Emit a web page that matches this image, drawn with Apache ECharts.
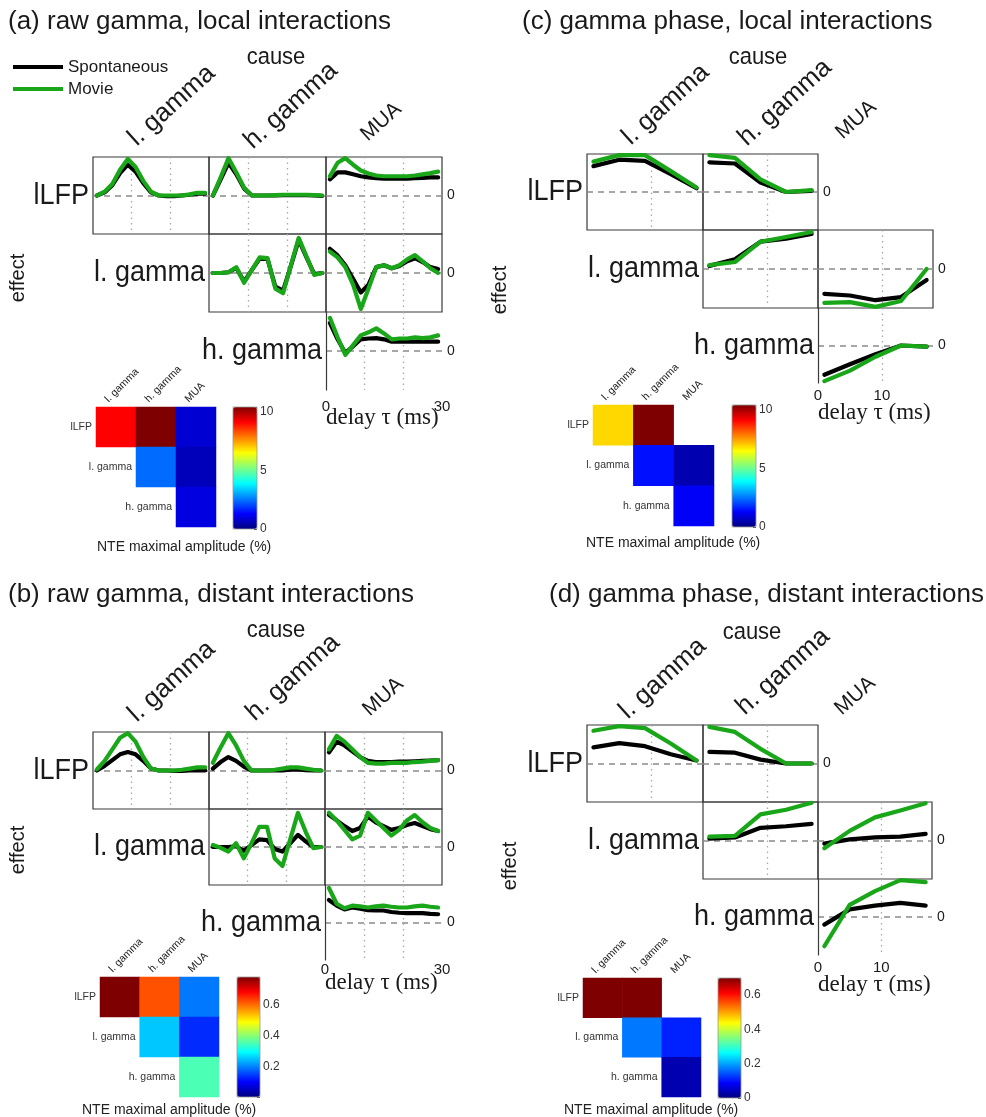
<!DOCTYPE html>
<html><head><meta charset="utf-8">
<script src="https://cdn.jsdelivr.net/npm/echarts@6/dist/echarts.min.js"></script>
<style>html,body{margin:0;padding:0;background:#fff}#c{width:986px;height:1117px}</style>
</head><body><div id="c"></div>
<script>
// ---------- categories / ticks ----------
const CAUSES = ['l. gamma', 'h. gamma', 'MUA'];
const EFFECTS = ['lLFP', 'l. gamma', 'h. gamma'];
const TAU_RAW = [1, 3, 5, 7, 9, 11, 13, 15, 17, 19, 21, 23, 25, 27, 29];
const TAU_PHASE = [1, 5, 9, 13, 17];
const XTICKS_RAW = [0, 30];
const XTICKS_PHASE = [0, 10];
const CB_TICKS_AC = [0, 5, 10];
const CB_TICKS_B = [0.2, 0.4, 0.6];
const CB_TICKS_D = [0, 0.2, 0.4, 0.6];

// ---------- (a) raw gamma, local ----------
const A_LFP_LG_SPON  = [0, 0.08, 0.27, 0.58, 0.8, 0.62, 0.32, 0.08, 0, -0.02, -0.02, 0, 0.02, 0.05, 0.05];
const A_LFP_LG_MOVIE = [0, 0.1, 0.3, 0.67, 0.95, 0.74, 0.38, 0.1, 0, 0, 0, 0, 0.03, 0.07, 0.07];
const A_LFP_HG_SPON  = [0, 0.42, 0.85, 0.55, 0.18, 0, 0, 0, 0, 0.01, 0.01, 0.01, 0.01, 0, -0.01];
const A_LFP_HG_MOVIE = [0, 0.47, 0.97, 0.6, 0.2, 0, 0, 0, 0.01, 0.02, 0.02, 0.02, 0.02, 0.01, 0];
const A_LFP_MUA_SPON = [0.42, 0.6, 0.6, 0.55, 0.5, 0.47, 0.45, 0.44, 0.44, 0.44, 0.44, 0.45, 0.46, 0.47, 0.47];
const A_LFP_MUA_MOVIE= [0.5, 0.85, 0.97, 0.8, 0.65, 0.57, 0.52, 0.5, 0.5, 0.5, 0.5, 0.52, 0.55, 0.58, 0.62];
const A_LG_HG_SPON   = [0, 0, 0.02, 0.13, -0.22, 0.08, 0.37, 0.36, -0.35, -0.45, 0.18, 0.85, 0.4, -0.03, 0];
const A_LG_HG_MOVIE  = [0, 0, 0.02, 0.15, -0.25, 0.08, 0.4, 0.38, -0.4, -0.52, 0.2, 0.9, 0.42, -0.05, 0];
const A_LG_MUA_SPON  = [0.62, 0.45, 0.2, -0.15, -0.5, -0.3, 0.15, 0.2, 0.12, 0.18, 0.3, 0.38, 0.28, 0.15, 0.1];
const A_LG_MUA_MOVIE = [0.55, 0.4, 0.15, -0.3, -0.92, -0.4, 0.15, 0.2, 0.12, 0.2, 0.35, 0.46, 0.3, 0.12, 0];
const A_HG_MUA_SPON  = [0.72, 0.3, -0.05, 0.12, 0.3, 0.32, 0.33, 0.3, 0.24, 0.24, 0.24, 0.24, 0.24, 0.24, 0.24];
const A_HG_MUA_MOVIE = [0.85, 0.35, -0.1, 0.15, 0.4, 0.48, 0.58, 0.45, 0.3, 0.32, 0.32, 0.35, 0.33, 0.35, 0.4];
const A_NTE_LFP = [9.1, 10.4, 0.85];
const A_NTE_LG  = [null, 2.4, 0.6];
const A_NTE_HG  = [null, null, 1.0];

// ---------- (b) raw gamma, distant ----------
const B_LFP_LG_SPON  = [0, 0.12, 0.27, 0.42, 0.48, 0.42, 0.25, 0.05, 0, 0, -0.01, -0.01, 0, 0, 0];
const B_LFP_LG_MOVIE = [0.03, 0.25, 0.55, 0.85, 0.97, 0.75, 0.35, 0.05, 0, 0, 0, 0.02, 0.05, 0.08, 0.08];
const B_LFP_HG_SPON  = [0.05, 0.22, 0.35, 0.25, 0.1, 0, 0, 0, 0, 0, 0.02, 0.03, 0.01, 0, 0];
const B_LFP_HG_MOVIE = [0.2, 0.6, 0.97, 0.65, 0.25, 0, 0, 0, 0.02, 0.05, 0.08, 0.08, 0.05, 0.02, 0];
const B_LFP_MUA_SPON = [0.47, 0.75, 0.65, 0.5, 0.35, 0.25, 0.22, 0.22, 0.22, 0.23, 0.23, 0.24, 0.25, 0.26, 0.27];
const B_LFP_MUA_MOVIE= [0.55, 0.9, 0.75, 0.55, 0.35, 0.2, 0.18, 0.18, 0.2, 0.2, 0.2, 0.22, 0.23, 0.25, 0.27];
const B_LG_HG_SPON   = [0, 0, 0, 0.02, -0.1, 0.05, 0.2, 0.18, -0.05, -0.12, 0.1, 0.32, 0.15, 0, 0];
const B_LG_HG_MOVIE  = [0.05, -0.02, -0.12, 0.1, -0.3, 0.1, 0.53, 0.53, -0.3, -0.5, 0.2, 0.9, 0.4, -0.03, 0];
const B_LG_MUA_SPON  = [0.85, 0.7, 0.55, 0.42, 0.5, 0.8, 0.65, 0.55, 0.45, 0.5, 0.58, 0.63, 0.55, 0.47, 0.42];
const B_LG_MUA_MOVIE = [0.9, 0.7, 0.45, 0.2, 0.3, 0.9, 0.7, 0.5, 0.3, 0.45, 0.7, 0.84, 0.65, 0.5, 0.42];
const B_HG_MUA_SPON  = [0.6, 0.45, 0.35, 0.4, 0.37, 0.33, 0.32, 0.32, 0.28, 0.26, 0.25, 0.25, 0.25, 0.23, 0.22];
const B_HG_MUA_MOVIE = [0.92, 0.5, 0.38, 0.45, 0.43, 0.4, 0.43, 0.45, 0.42, 0.4, 0.4, 0.43, 0.45, 0.42, 0.4];
const B_NTE_LFP = [0.78, 0.62, 0.19];
const B_NTE_LG  = [null, 0.25, 0.13];
const B_NTE_HG  = [null, null, 0.35];

// ---------- (c) gamma phase, local ----------
const C_LFP_LG_SPON  = [0.68, 0.85, 0.82, 0.47, 0.1];
const C_LFP_LG_MOVIE = [0.8, 0.97, 0.97, 0.55, 0.12];
const C_LFP_HG_SPON  = [0.78, 0.75, 0.25, 0, 0.03];
const C_LFP_HG_MOVIE = [0.97, 0.9, 0.33, 0, 0.05];
const C_LG_HG_SPON   = [0.08, 0.25, 0.7, 0.78, 0.9];
const C_LG_HG_MOVIE  = [0.1, 0.18, 0.7, 0.82, 0.95];
const C_LG_MUA_SPON  = [-0.64, -0.68, -0.8, -0.72, -0.28];
const C_LG_MUA_MOVIE = [-0.87, -0.85, -0.97, -0.82, 0];
const C_HG_MUA_SPON  = [-0.78, -0.5, -0.23, 0, -0.03];
const C_HG_MUA_MOVIE = [-0.95, -0.67, -0.3, 0, -0.03];
const C_NTE_LFP = [6.9, 10.4, null];
const C_NTE_LG  = [null, 1.45, 0.5];
const C_NTE_HG  = [null, null, 1.25];

// ---------- (d) gamma phase, distant ----------
const D_LFP_LG_SPON  = [0.42, 0.53, 0.45, 0.24, 0.08];
const D_LFP_LG_MOVIE = [0.85, 0.97, 0.92, 0.52, 0.08];
const D_LFP_HG_SPON  = [0.3, 0.28, 0.1, 0, 0];
const D_LFP_HG_MOVIE = [0.95, 0.82, 0.38, 0, 0];
const D_LG_HG_SPON   = [0.05, 0.08, 0.33, 0.37, 0.43];
const D_LG_HG_MOVIE  = [0.1, 0.12, 0.68, 0.8, 0.98];
const D_LG_MUA_SPON  = [-0.08, 0.03, 0.08, 0.1, 0.17];
const D_LG_MUA_MOVIE = [-0.2, 0.25, 0.6, 0.78, 0.97];
const D_HG_MUA_SPON  = [-0.2, 0.2, 0.3, 0.37, 0.3];
const D_HG_MUA_MOVIE = [-0.77, 0.32, 0.68, 0.97, 0.92];
const D_NTE_LFP = [0.7, 0.7, null];
const D_NTE_LG  = [null, 0.17, 0.11];
const D_NTE_HG  = [null, null, 0.034];

// ---------- styling / layout ----------
const JET = ['#00007f','#0000ff','#007fff','#00ffff','#7fff7f','#ffff00','#ff7f00','#ff0000','#7f0000'];
const SANS = '"Liberation Sans", Arial, Helvetica, sans-serif';
const SERIF = '"Liberation Serif", "Times New Roman", serif';
const C_SPON = '#000000', C_MOVIE = '#19a619';
const TXT = '#1a1a1a';

const PANELS = [
  { title: '(a) raw gamma, local interactions', tau: TAU_RAW, xMax: 30, xTicks: XTICKS_RAW,
    cells: [[0,0,A_LFP_LG_SPON,A_LFP_LG_MOVIE],[0,1,A_LFP_HG_SPON,A_LFP_HG_MOVIE],[0,2,A_LFP_MUA_SPON,A_LFP_MUA_MOVIE],
            [1,1,A_LG_HG_SPON,A_LG_HG_MOVIE],[1,2,A_LG_MUA_SPON,A_LG_MUA_MOVIE],[2,2,A_HG_MUA_SPON,A_HG_MUA_MOVIE]],
    nte: [A_NTE_LFP, A_NTE_LG, A_NTE_HG], nteMax: 10.4, nteStep: 5, cbTicks: CB_TICKS_AC,
    L: { col:[93,209,326,442], row:[157,234,312,390], title:[8,22], cause:[276,57], effect:[18,278],
         heads:[[137,147],[253,150],[368,142]], xlab:[326,418], xlabMargin:9,
         hm:[96,407,120,120], cb:[233,407,24,122], nteLab:[97,547] } },
  { title: '(b) raw gamma, distant interactions', tau: TAU_RAW, xMax: 30, xTicks: XTICKS_RAW,
    cells: [[0,0,B_LFP_LG_SPON,B_LFP_LG_MOVIE],[0,1,B_LFP_HG_SPON,B_LFP_HG_MOVIE],[0,2,B_LFP_MUA_SPON,B_LFP_MUA_MOVIE],
            [1,1,B_LG_HG_SPON,B_LG_HG_MOVIE],[1,2,B_LG_MUA_SPON,B_LG_MUA_MOVIE],[2,2,B_HG_MUA_SPON,B_HG_MUA_MOVIE]],
    nte: [B_NTE_LFP, B_NTE_LG, B_NTE_HG], nteMax: 0.78, nteStep: 0.2, cbTicks: CB_TICKS_B,
    L: { col:[93,209,325,442], row:[732,809,885,960], title:[8,595], cause:[276,630], effect:[18,850],
         heads:[[137,723],[255,722],[370,717]], xlab:[325,983], xlabMargin:2,
         hm:[100,977,119,120], cb:[237,977,23,120], nteLab:[82,1110] } },
  { title: '(c) gamma phase, local interactions', tau: TAU_PHASE, xMax: 18, xTicks: XTICKS_PHASE,
    cells: [[0,0,C_LFP_LG_SPON,C_LFP_LG_MOVIE],[0,1,C_LFP_HG_SPON,C_LFP_HG_MOVIE],
            [1,1,C_LG_HG_SPON,C_LG_HG_MOVIE],[1,2,C_LG_MUA_SPON,C_LG_MUA_MOVIE],[2,2,C_HG_MUA_SPON,C_HG_MUA_MOVIE]],
    nte: [C_NTE_LFP, C_NTE_LG, C_NTE_HG], nteMax: 10.4, nteStep: 5, cbTicks: CB_TICKS_AC,
    L: { col:[587,703,818,933], row:[154,230,308,383], title:[522,22], cause:[758,57], effect:[500,290],
         heads:[[631,146],[747,147],[843,140]], xlab:[818,413], xlabMargin:5,
         hm:[593,405,121,121], cb:[732,405,24,122], nteLab:[586,543] } },
  { title: '(d) gamma phase, distant interactions', tau: TAU_PHASE, xMax: 18, xTicks: XTICKS_PHASE,
    cells: [[0,0,D_LFP_LG_SPON,D_LFP_LG_MOVIE],[0,1,D_LFP_HG_SPON,D_LFP_HG_MOVIE],
            [1,1,D_LG_HG_SPON,D_LG_HG_MOVIE],[1,2,D_LG_MUA_SPON,D_LG_MUA_MOVIE],[2,2,D_HG_MUA_SPON,D_HG_MUA_MOVIE]],
    nte: [D_NTE_LFP, D_NTE_LG, D_NTE_HG], nteMax: 0.7, nteStep: 0.2, cbTicks: CB_TICKS_D,
    L: { col:[587,703,818,932], row:[725,802,879,955], title:[549,595], cause:[752,632], effect:[510,866],
         heads:[[628,720],[745,716],[842,716]], xlab:[818,985], xlabMargin:5,
         hm:[583,978,118,119], cb:[718,978,23,120], nteLab:[564,1110] } }
];

const grid = [], xAxis = [], yAxis = [], series = [], visualMap = [], graphic = [];

function text(x, y, str, o) {
  o = o || {};
  return { type: 'text', x: x, y: y, rotation: o.rot || 0, scaleY: o.sy || 1, silent: true, z: 10,
    style: { text: str, fontSize: o.size || 14, fontFamily: o.family || SANS, fill: o.color || TXT,
      textAlign: o.align || 'left', align: o.align || 'left',
      textVerticalAlign: o.va || 'middle', verticalAlign: o.va || 'middle' } };
}
// place rotated text by baseline-start point
function rotText(bx, by, str, size, deg) {
  const th = deg * Math.PI / 180, d = 0.21 * size;
  return text(bx + d * Math.sin(th), by + d * Math.cos(th), str, { size: size, rot: th, va: 'bottom' });
}
const near = (arr, v) => arr.some(t => Math.abs(t - v) < 1e-6);

PANELS.forEach(p => {
  const L = p.L;
  const dashed = { show: true, showMinLine: false, showMaxLine: false, lineStyle: { type: [6, 5], color: '#8a8a8a', width: 1.5 } };
  const zeroLab = { show: true, formatter: v => (v === 0 ? '0' : ''), fontSize: 14, color: TXT, margin: 5, fontFamily: SANS };
  p.cells.forEach(cell => {
    const r = cell[0], c = cell[1];
    const bottomRow = r === 2;
    const rightmost = !p.cells.some(o => o[0] === r && o[1] > c);
    const gi = grid.length;
    grid.push({ left: L.col[c], top: L.row[r], width: L.col[c + 1] - L.col[c], height: L.row[r + 1] - L.row[r],
      show: !bottomRow, borderColor: '#3a3a3a', borderWidth: 1.2, backgroundColor: 'transparent' });
    const xi = xAxis.length;
    xAxis.push({ gridIndex: gi, type: 'value', min: 0, max: p.xMax, interval: 10,
      axisLine: { show: false, onZero: false }, axisTick: { show: false },
      axisLabel: { show: bottomRow, formatter: v => (p.xTicks.indexOf(v) >= 0 ? String(v) : ''), fontSize: 15,
        margin: L.xlabMargin, color: TXT, fontFamily: SANS, showMinLabel: true, showMaxLabel: true },
      splitLine: { show: true, showMinLine: false, showMaxLine: false, lineStyle: { type: [1.5, 4], color: '#a8a8a8', width: 1.3 } } });
    const yb = { gridIndex: gi, type: 'value', min: -1, max: 1, interval: 1, axisTick: { show: false } };
    const yi = yAxis.length;
    if (bottomRow) {
      yAxis.push(Object.assign({}, yb, { position: 'left', axisLine: { show: true, onZero: false, lineStyle: { color: '#3a3a3a', width: 1.2 } },
        axisLabel: { show: false }, splitLine: dashed }));
      yAxis.push(Object.assign({}, yb, { position: 'right', axisLine: { show: false, onZero: false }, axisLabel: zeroLab, splitLine: { show: false } }));
    } else {
      yAxis.push(Object.assign({}, yb, { position: rightmost ? 'right' : 'left', axisLine: { show: false, onZero: false },
        axisLabel: rightmost ? zeroLab : { show: false }, splitLine: dashed }));
    }
    [[cell[2], 'Spontaneous', C_SPON, 3], [cell[3], 'Movie', C_MOVIE, 4]].forEach(s => {
      series.push({ type: 'line', name: s[1], xAxisIndex: xi, yAxisIndex: yi, silent: true, clip: true,
        data: p.tau.map((t, i) => [t, s[0][i]]), showSymbol: false, symbol: 'none', z: s[3],
        lineStyle: { color: s[2], width: 4.2, cap: 'round', join: 'round' }, itemStyle: { color: s[2] } });
    });
  });

  // row labels for line-plot triangle
  [0, 1, 2].forEach(r => {
    const cs = p.cells.filter(o => o[0] === r).map(o => o[1]);
    const first = Math.min.apply(null, cs);
    graphic.push(text(L.col[first] - 4, (L.row[r] + L.row[r + 1]) / 2, EFFECTS[r], { size: 27, align: 'right', sy: 1.1 }));
  });
  CAUSES.forEach((name, c) => graphic.push(rotText(L.heads[c][0], L.heads[c][1], name, name === 'MUA' ? 21 : 26, 42)));
  graphic.push(text(L.title[0], L.title[1], p.title, { size: 26 }));
  graphic.push(text(L.cause[0], L.cause[1], 'cause', { size: 22, align: 'center', sy: 1.12 }));
  graphic.push(text(L.effect[0], L.effect[1], 'effect', { size: 20, align: 'center', rot: Math.PI / 2 }));
  graphic.push(text(L.xlab[0], L.xlab[1], 'delay τ (ms)', { size: 23, family: SERIF }));

  // heatmap of NTE maximal amplitude
  const hm = L.hm, cell = hm[2] / 3, cellH = hm[3] / 3;
  const hg = grid.length;
  grid.push({ left: hm[0], top: hm[1], width: hm[2], height: hm[3], show: false });
  const hx = xAxis.length;
  xAxis.push({ gridIndex: hg, type: 'category', data: CAUSES, show: false });
  const hy = yAxis.length;
  yAxis.push({ gridIndex: hg, type: 'category', data: EFFECTS, inverse: true, show: false });
  const hdata = [];
  p.nte.forEach((row, r) => row.forEach((v, c) => { if (v !== null) hdata.push([c, r, v]); }));
  const si = series.length;
  series.push({ type: 'heatmap', xAxisIndex: hx, yAxisIndex: hy, data: hdata, silent: true, itemStyle: { borderWidth: 0 } });
  const cb = L.cb;
  visualMap.push({ type: 'continuous', seriesIndex: si, min: 0, max: p.nteMax, left: cb[0], top: cb[1],
    itemWidth: cb[2], itemHeight: cb[3], calculable: false, hoverLink: false, padding: 0, text: null,
    inRange: { color: JET }, orient: 'vertical' });
  // colorbar tick axis
  const cg = grid.length;
  grid.push({ left: cb[0], top: cb[1], width: cb[2], height: cb[3], show: true, borderColor: '#9a9a9a', borderWidth: 0.8, backgroundColor: 'transparent', z: 5 });
  xAxis.push({ gridIndex: cg, type: 'value', min: 0, max: 1, show: false });
  yAxis.push({ gridIndex: cg, type: 'value', min: 0, max: p.nteMax, interval: p.nteStep, position: 'right',
    axisLine: { show: false, onZero: false }, axisTick: { show: true, inside: true, length: 3, lineStyle: { color: '#444' } },
    axisLabel: { formatter: v => (near(p.cbTicks, v) ? String(Math.round(v * 10) / 10) : ''), fontSize: 12, margin: 3, color: '#333', fontFamily: SANS },
    splitLine: { show: false } });
  // heatmap labels
  [0, 1, 2].forEach(r => {
    const first = p.nte[r].findIndex(v => v !== null);
    graphic.push(text(hm[0] + first * cell - 4, hm[1] + (r + 0.5) * cellH, EFFECTS[r], { size: 10.5, align: 'right', color: '#333' }));
  });
  CAUSES.forEach((name, c) => graphic.push(rotText(hm[0] + c * cell + 13, hm[1] - 4, name, 10.5, 45)));
  graphic.push(text(L.nteLab[0], L.nteLab[1], 'NTE maximal amplitude (%)', { size: 14, color: '#222' }));
});

const chart = echarts.init(document.getElementById('c'), null, { renderer: 'canvas' });
chart.setOption({
  animation: false,
  backgroundColor: '#ffffff',
  legend: { data: ['Spontaneous', 'Movie'], orient: 'vertical', left: 13, top: 58, padding: 0,
    icon: 'rect', itemWidth: 50, itemHeight: 4, itemGap: 4, selectedMode: false,
    textStyle: { fontSize: 17, fontFamily: SANS, color: TXT, padding: [0, 0, 0, 0], lineHeight: 18 } },
  grid: grid, xAxis: xAxis, yAxis: yAxis, visualMap: visualMap, series: series,
  graphic: { elements: graphic }
});
</script></body></html>
